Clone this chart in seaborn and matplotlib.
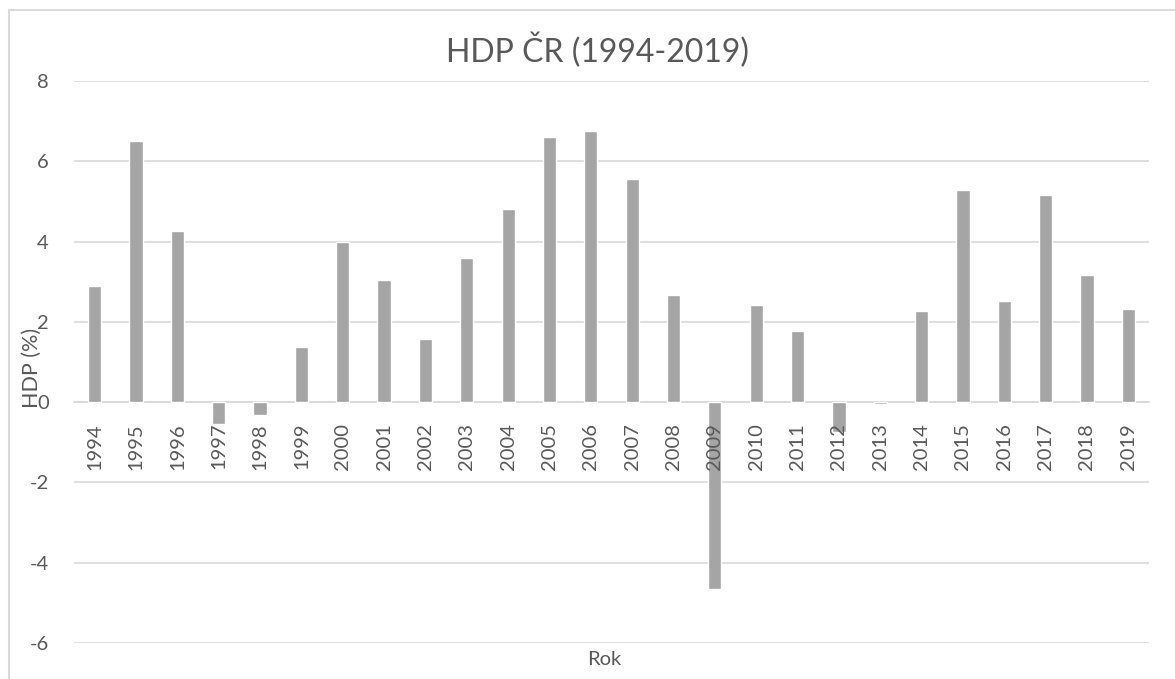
import pandas as pd
import matplotlib.pyplot as plt
import seaborn as sns
from matplotlib.patches import Rectangle

years = [str(y) for y in range(1994, 2020)]
hdp = [2.9, 6.5, 4.26, -0.55, -0.33, 1.38, 4.0, 3.04, 1.57, 3.58,
       4.82, 6.6, 6.76, 5.57, 2.68, -4.66, 2.43, 1.76, -0.75, -0.05,
       2.26, 5.28, 2.53, 5.17, 3.17, 2.32]

df = pd.DataFrame({"Rok": years, "HDP": hdp})

sns.set_theme(style="white")
plt.rcParams['font.family'] = ['Lato', 'DejaVu Sans']
plt.rcParams['axes.unicode_minus'] = False

grey_text = "#595959"
grid_col = "#d9d9d9"

fig = plt.figure(figsize=(11.75, 6.79), dpi=100)
ax = fig.add_axes([74/1175, 1 - 643/679, (1149 - 74)/1175, (643 - 81)/679])

sns.barplot(data=df, x="Rok", y="HDP", color="#a5a5a5", saturation=1,
            width=0.32, errorbar=None, ax=ax, zorder=1)

ax.set_ylim(-6, 8)
ax.set_yticks(range(-6, 9, 2))
ax.set_xlim(-0.5, len(years) - 0.5)
ax.yaxis.grid(True, color=grid_col, linewidth=1.2)
ax.set_axisbelow(True)
# year labels sit on top of the bars, like in Excel
ax.xaxis.set_zorder(5)

for s in ["top", "right", "left"]:
    ax.spines[s].set_visible(False)
ax.spines["bottom"].set_position(("data", 0))
ax.spines["bottom"].set_color(grid_col)
ax.spines["bottom"].set_linewidth(1.2)
ax.spines["bottom"].set_zorder(0.6)

ax.tick_params(axis="x", length=0, pad=15, labelrotation=90, labelsize=14.5, labelcolor=grey_text)
ax.tick_params(axis="y", length=0, pad=18, labelsize=14.5, labelcolor=grey_text)

ax.set_xlabel("Rok", fontsize=14.5, color=grey_text)
ax.xaxis.set_label_coords((604 - 74) / (1149 - 74), -0.014)
ax.set_ylabel("HDP (%)", fontsize=15.5, color=grey_text)
ax.yaxis.set_label_coords(-0.03, 0.49)

fig.text(597/1175, 1 - 50/679, "HDP ČR (1994-2019)", ha="center", va="center",
         fontsize=23, color=grey_text)

fig.patches.append(Rectangle((9/1175, -0.1), 1.2, 1 - 10/679 + 0.1, transform=fig.transFigure,
                             fill=False, edgecolor=grid_col, linewidth=1.5))

fig.savefig("out.png", dpi=100)
